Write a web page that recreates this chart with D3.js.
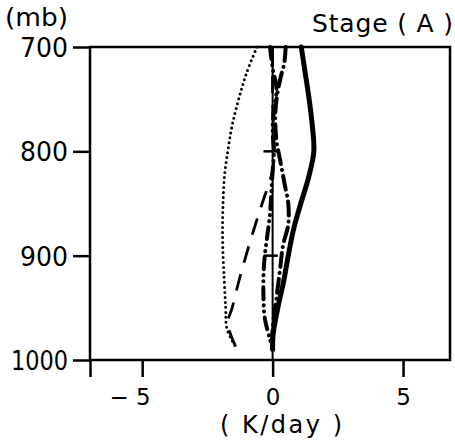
<!DOCTYPE html>
<html>
<head>
<meta charset="utf-8">
<script src="https://cdn.jsdelivr.net/npm/d3@7"></script>
<style>
  body { margin: 0; background: #fff; }
  svg { display: block; }
  text { font-family: "DejaVu Sans", sans-serif; fill: #000; }
</style>
</head>
<body>
<svg width="455" height="442"></svg>
<script>
// pressure ticks (mb) and heating-rate ticks (K/day)
const pressureTicks = [700, 800, 900, 1000];
const rateTicks = [-5, 0, 5];
const zeroMarks = [800, 900];

// thick solid profile
const solidLevels = [700, 725, 750, 775, 800, 825, 850, 875, 900, 925, 950, 975, 990];
const solidValues = [1.1, 1.25, 1.4, 1.52, 1.58, 1.38, 1.08, 0.8, 0.6, 0.42, 0.2, 0.02, 0.0];

// dotted profile
const dottedLevels = [700, 725, 750, 775, 800, 825, 850, 875, 900, 925, 950, 970, 988];
const dottedValues = [-0.6, -1.0, -1.3, -1.55, -1.72, -1.85, -1.9, -1.92, -1.9, -1.85, -1.8, -1.75, -1.4];

// dashed profile
const dashedLevels = [700, 750, 800, 818, 850, 875, 900, 925, 950, 965, 988];
const dashedValues = [0.0, 0.0, 0.05, 0.0, -0.4, -0.72, -1.02, -1.3, -1.55, -1.72, -1.4];

// dash-dot profile
const dashDotLevels = [700, 715, 730, 750, 770, 790, 810, 830, 850, 870, 890, 910, 930, 950, 970, 990];
const dashDotValues = [0.5, 0.45, 0.3, 0.15, 0.1, 0.15, 0.3, 0.45, 0.6, 0.6, 0.4, 0.3, 0.2, 0.1, 0.0, 0.0];

// dash-dot-dot profile
const dashDot2Levels = [700, 720, 740, 760, 780, 800, 820, 840, 860, 880, 900, 920, 940, 960, 980, 990];
const dashDot2Values = [-0.1, 0.0, 0.15, 0.05, 0.0, 0.05, 0.0, -0.05, -0.1, -0.2, -0.3, -0.35, -0.35, -0.3, -0.1, 0.0];

const svg = d3.select('svg');

const x = d3.scaleLinear().domain([-7, 6.8]).range([90, 450]);
const y = d3.scaleLinear().domain([700, 1000]).range([47, 360]);

const line = d3.line()
    .x(d => x(d[1]))
    .y(d => y(d[0]))
    .curve(d3.curveCatmullRom);

const zip = (a, b) => a.map((v, i) => [v, b[i]]);

// zero line
svg.append('line')
    .attr('x1', x(0)).attr('x2', x(0))
    .attr('y1', y(700)).attr('y2', y(1000))
    .attr('stroke', '#000').attr('stroke-width', 2);

svg.selectAll('.zmark')
    .data(zeroMarks)
    .enter().append('line')
    .attr('x1', x(-0.35)).attr('x2', x(0.2))
    .attr('y1', d => y(d)).attr('y2', d => y(d))
    .attr('stroke', '#000').attr('stroke-width', 2.5);

// profiles
svg.append('path')
    .attr('d', line(zip(solidLevels, solidValues)))
    .attr('fill', 'none').attr('stroke', '#000')
    .attr('stroke-width', 5).attr('stroke-linecap', 'round');

svg.append('path')
    .attr('d', line(zip(dottedLevels, dottedValues)))
    .attr('fill', 'none').attr('stroke', '#000')
    .attr('stroke-width', 3).attr('stroke-linecap', 'round')
    .attr('stroke-dasharray', '0 5');

svg.append('path')
    .attr('d', line(zip(dashedLevels, dashedValues)))
    .attr('fill', 'none').attr('stroke', '#000')
    .attr('stroke-width', 2.8)
    .attr('stroke-dasharray', '17 12');

svg.append('path')
    .attr('d', line(zip(dashDotLevels, dashDotValues)))
    .attr('fill', 'none').attr('stroke', '#000')
    .attr('stroke-width', 4).attr('stroke-linecap', 'round')
    .attr('stroke-dasharray', '14 6 0.1 6');

svg.append('path')
    .attr('d', line(zip(dashDot2Levels, dashDot2Values)))
    .attr('fill', 'none').attr('stroke', '#000')
    .attr('stroke-width', 4).attr('stroke-linecap', 'round')
    .attr('stroke-dasharray', '12 6 0.1 6 0.1 6');

// frame
svg.append('rect')
    .attr('x', x(-7)).attr('y', y(700))
    .attr('width', x(6.8) - x(-7)).attr('height', y(1000) - y(700))
    .attr('fill', 'none').attr('stroke', '#000').attr('stroke-width', 2.5);

// axes
const yAxis = svg.append('g')
    .attr('transform', 'translate(' + x(-7) + ',0)')
    .call(d3.axisLeft(y).tickValues(pressureTicks).tickSize(17).tickSizeOuter(0).tickPadding(5)
        .tickFormat(d3.format('d')));
yAxis.select('.domain').remove();
yAxis.selectAll('line').attr('stroke-width', 2.5);
yAxis.selectAll('text').style('font-size', '26px').attr('dy', '0.36em')
    .attr('textLength', d => d >= 1000 ? 57 : 48)
    .attr('lengthAdjust', 'spacingAndGlyphs');

const xAxis = svg.append('g')
    .attr('transform', 'translate(0,' + y(1000) + ')')
    .call(d3.axisBottom(x).tickValues([-7].concat(rateTicks)).tickSize(17).tickSizeOuter(0).tickPadding(12)
        .tickFormat(d => d === -7 ? '' : (d < 0 ? '\u2212 ' + Math.abs(d) : d)));
xAxis.select('.domain').remove();
xAxis.selectAll('line').attr('stroke-width', 2.5);
xAxis.selectAll('text').style('font-size', '23px')
    .attr('text-anchor', d => d < 0 ? 'end' : 'middle')
    .attr('x', d => d < 0 ? 8 : 0);

// titles
svg.append('text')
    .attr('x', 5).attr('y', 26)
    .style('font-size', '24px')
    .attr('textLength', 63).attr('lengthAdjust', 'spacingAndGlyphs')
    .text('(mb)');

svg.append('text')
    .attr('x', 312).attr('y', 32)
    .style('font-size', '25px')
    .attr('textLength', 141)
    .text('Stage ( A )');

svg.append('text')
    .attr('x', 220).attr('y', 433)
    .style('font-size', '24px')
    .attr('textLength', 122)
    .text('( K/day )');
</script>
</body>
</html>
